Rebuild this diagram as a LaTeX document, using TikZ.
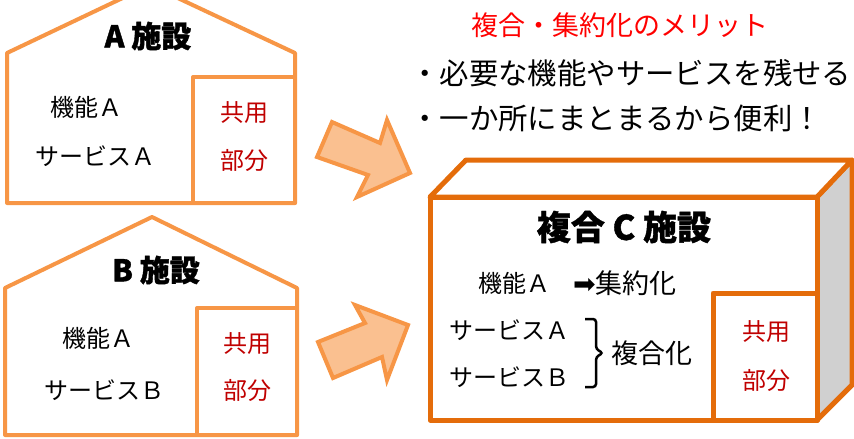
\documentclass[tikz,border=0pt]{standalone}
\usepackage{fontspec}
\setmainfont{Noto Sans CJK JP}
\newfontfamily\symfont{DejaVu Sans}
\usetikzlibrary{calc}

\definecolor{houseorange}{HTML}{F79646}
\definecolor{boxorange}{HTML}{E46C0A}
\definecolor{arrowfill}{HTML}{FAC090}
\definecolor{sidegray}{HTML}{D0D0D0}
\definecolor{sharedred}{HTML}{C00000}

\newcommand{\bodysize}{\fontsize{24}{28}\selectfont}
\newcommand{\titlesize}{\fontsize{30}{34}\selectfont\bfseries\addfontfeatures{FakeBold=1.2}}

\begin{document}
\begin{tikzpicture}[x=1pt,y=-1pt,
    house/.style={draw=houseorange,line width=4pt,line join=round,fill=white},
    bigbox/.style={draw=boxorange,line width=5pt,line join=round},
    blockarrow/.style={draw=houseorange,fill=arrowfill,line width=4pt,line join=miter},
    body/.style={inner sep=0pt,font=\bodysize},
    shared/.style={inner sep=0pt,font=\bodysize,text=sharedred,align=center},
    title/.style={inner sep=0pt,font=\titlesize}]
    \useasboundingbox (0,0) rectangle (854,439);
    \clip (0,0) rectangle (854,439);
    % house A
    \draw[house] (7,203) -- (7,53) -- (150,-15) -- (295,53) -- (295,203) -- cycle;
    \draw[house] (193,77) rectangle (295,203);
    \node[title] (titleA) at (148,36) {A 施設};
    \node[body] (funcA) at (86,107) {機能Ａ};
    \node[body] (servA) at (95,156) {サービスＡ};
    \node[shared] (sharedA1) at (244,113) {共用};
    \node[shared] (sharedA2) at (244,160) {部分};
    % house B
    \draw[house] (5,435) -- (5,288) -- (152,217) -- (297,288) -- (297,435) -- cycle;
    \draw[house] (197,308) rectangle (297,435);
    \node[title] (titleB) at (156,270) {B 施設};
    \node[body] (funcB) at (98,338) {機能Ａ};
    \node[body] (servB) at (104,390) {サービスＢ};
    \node[shared] (sharedB1) at (247,344) {共用};
    \node[shared] (sharedB2) at (247,390) {部分};
    % arrows towards C
    \draw[blockarrow] (317,157) -- (332,122) -- (380,143) -- (387,120)
      -- (410,173) -- (357,197) -- (368,175) -- cycle;
    \draw[blockarrow] (318,342) -- (333,378) -- (382,357) -- (387,380)
      -- (408,325) -- (355,305) -- (365,323) -- cycle;
    % merits
    \node[inner sep=0pt,font=\fontsize{27}{30}\selectfont,text=red] (merit) at (620,25)
      {複合・集約化のメリット};
    \node[inner sep=0pt,anchor=west,font=\fontsize{29.4}{33}\selectfont] (merit1) at (410,73)
      {・必要な機能やサービスを残せる};
    \node[inner sep=0pt,anchor=west,font=\fontsize{29.4}{33}\selectfont] (merit2) at (410,118)
      {・一か所にまとまるから便利！};
    % facility C
    \draw[bigbox,fill=sidegray] (817,197) -- (852,160) -- (852,385) -- (817,420) -- cycle;
    \draw[bigbox,fill=white] (430,197) -- (466,160) -- (852,160) -- (817,197) -- cycle;
    \draw[bigbox,fill=white] (430,197) rectangle (817,420);
    \draw[bigbox] (713,293) rectangle (817,420);
    \node[inner sep=0pt,font=\fontsize{34}{38}\selectfont\bfseries\addfontfeatures{FakeBold=1.2}]
      (titleC) at (624,227) {複合 C 施設};
    \node[body] (funcC) at (514,283) {機能Ａ};
    \node[body,anchor=west,font=\fontsize{27}{30}\selectfont] (aggr) at (573,283)
      {{\symfont ➡}集約化};
    \node[body] (servCA) at (509,330) {サービスＡ};
    \node[body] (servCB) at (509,377) {サービスＢ};
    \draw[line width=2.5pt,rounded corners=3pt] (585,319) -- (596,319) -- (596,349)
      -- (603,353) -- (596,357) -- (596,387) -- (585,387);
    \node[body,anchor=west,font=\fontsize{27}{30}\selectfont] (compound) at (611,353) {複合化};
    \node[shared] (sharedC1) at (766,332) {共用};
    \node[shared] (sharedC2) at (766,380) {部分};
\end{tikzpicture}
\end{document}
